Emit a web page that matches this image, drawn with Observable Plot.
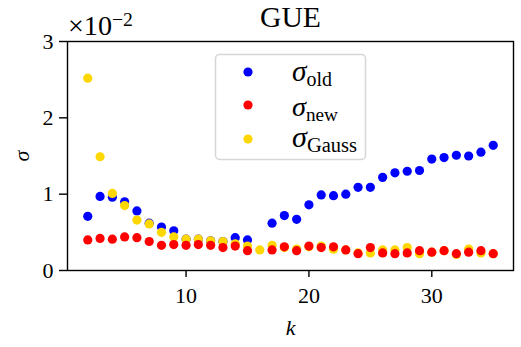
<!DOCTYPE html>
<html>
<head>
<meta charset="utf-8">
<script src="https://cdn.jsdelivr.net/npm/d3@7"></script>
<script src="https://cdn.jsdelivr.net/npm/@observablehq/plot@0.6"></script>
<style>
  html, body { margin: 0; padding: 0; background: #fff; }
  #wrap { position: relative; width: 521px; height: 347px; color: #000; }
  g[aria-label="x-axis label"] text, g[aria-label="y-axis label"] text { font-style: italic; }
</style>
</head>
<body>
<div id="wrap"></div>
<script>
const k = [2,3,4,5,6,7,8,9,10,11,12,13,14,15,16,17,18,19,20,21,22,23,24,25,26,27,28,29,30,31,32,33,34,35];
const sigmaOld = [0.71,0.97,0.96,0.90,0.78,0.62,0.57,0.52,0.41,0.41,0.39,0.38,0.43,0.40,null,0.62,0.72,0.67,0.86,0.99,0.98,1.00,1.09,1.09,1.22,1.28,1.30,1.31,1.46,1.48,1.51,1.50,1.55,1.64];
const sigmaNew = [0.40,0.42,0.41,0.44,0.43,0.38,0.33,0.34,0.33,0.34,0.33,0.30,0.32,0.26,null,0.27,0.31,0.26,0.32,0.30,0.31,0.27,0.22,0.30,0.23,0.22,0.23,0.26,0.24,0.26,0.22,0.24,0.26,0.22];
const sigmaGauss = [2.52,1.49,1.01,0.85,0.66,0.61,0.50,0.44,0.41,0.41,0.39,0.38,0.35,0.32,0.27,0.33,0.30,0.28,0.31,0.32,0.28,0.27,0.23,0.23,0.27,0.27,0.30,0.22,0.24,0.26,0.21,0.28,0.23,0.22];
const xTicks = [10, 20, 30];
const yTicks = [0, 1, 2, 3];
const seriesNames = ["old", "new", "Gauss"];
const seriesColors = ["#0000ff", "#ff0000", "#ffd700"];
const title = "GUE";

const FONT = "'Liberation Serif', serif";
const wrap = document.getElementById("wrap");

// measuring helper (font-independent sizing)
const meas = d3.select("body").append("svg").attr("width", 10).attr("height", 10)
  .style("position", "absolute").style("left", "-9999px").style("font-family", FONT);
function textWidth(str, size, italic) {
  const t = meas.append("text").attr("font-size", size).attr("font-style", italic ? "italic" : "normal").text(str);
  const w = t.node().getComputedTextLength();
  t.remove();
  return w;
}
const tickFs = 22 * 100 / textWidth("10", 100, false);

const toRows = (vals) => k.map((kk, i) => ({k: kk, s: vals[i]})).filter(d => d.s != null);
const rOld = toRows(sigmaOld), rNew = toRows(sigmaNew), rGauss = toRows(sigmaGauss);

const plot = Plot.plot({
  width: 521,
  height: 347,
  marginLeft: 67,
  marginRight: 8,
  marginTop: 41,
  marginBottom: 77,
  style: {fontSize: tickFs + "px", fontFamily: FONT, color: "#000"},
  x: {domain: [0.35, 36.65]},
  y: {domain: [0, 3]},
  marks: [
    Plot.dot(rOld, {x: "k", y: "s", r: 4.6, fill: seriesColors[0], stroke: "none"}),
    Plot.dot(rGauss, {x: "k", y: "s", r: 4.6, fill: seriesColors[2], stroke: "none"}),
    Plot.dot(rNew, {x: "k", y: "s", r: 4.6, fill: seriesColors[1], stroke: "none"}),
    Plot.frame({stroke: "#000", strokeWidth: 1.4}),
    Plot.axisX({ticks: xTicks, tickSize: 7, tickPadding: 10, tickFormat: d => String(d), label: "k", labelAnchor: "center", labelArrow: "none", labelOffset: 64, strokeWidth: 1.4, fontSize: tickFs}),
    Plot.axisY({ticks: yTicks, tickSize: 8, tickPadding: 6, tickFormat: d => String(d), label: "σ", labelAnchor: "center", labelArrow: "none", labelOffset: 54, strokeWidth: 1.4, fontSize: tickFs})
  ]
});
wrap.appendChild(plot);

// overlay for title, offset text and legend
const ov = d3.select(wrap).append("svg").attr("width", 521).attr("height", 347)
  .style("position", "absolute").style("left", 0).style("top", 0)
  .style("font-family", FONT).style("pointer-events", "none");

function fitted(node, parts, targetW) {
  const base = 100;
  const t = node.append("text");
  parts.forEach(p => t.append("tspan").text(p.text).attr("font-size", base * p.rel)
    .attr("font-style", p.italic ? "italic" : "normal").attr("dy", (p.dy || 0) * base));
  const w = t.node().getComputedTextLength();
  const f = targetW / w;
  t.selectAll("tspan").each(function(_, i) {
    const p = parts[i];
    d3.select(this).attr("font-size", base * p.rel * f).attr("dy", (p.dy || 0) * base * f);
  });
  return t;
}

fitted(ov, [{text: title, rel: 1}], 61).attr("x", 290.5).attr("y", 27).attr("text-anchor", "middle");
fitted(ov, [{text: "×10", rel: 1}, {text: "−2", rel: 0.7, dy: -0.33}], 65).attr("x", 68).attr("y", 35);

ov.append("rect").attr("x", 215.5).attr("y", 54.5).attr("width", 150).attr("height", 105).attr("rx", 4)
  .attr("fill", "#fff").attr("fill-opacity", 0.85).attr("stroke", "#d6d6d6").attr("stroke-width", 1.5);
const markerY = [72, 105, 139];
const labelBase = [81, 116, 146.5];
const labelW = [40, 46, 65];
seriesNames.forEach((n, i) => {
  ov.append("circle").attr("cx", 248).attr("cy", markerY[i]).attr("r", 4.6).attr("fill", seriesColors[i]);
  fitted(ov, [{text: "σ", rel: 1, italic: true}, {text: n, rel: 0.68, dy: 0.17}], labelW[i])
    .attr("x", 292).attr("y", labelBase[i]);
});
</script>
</body>
</html>
